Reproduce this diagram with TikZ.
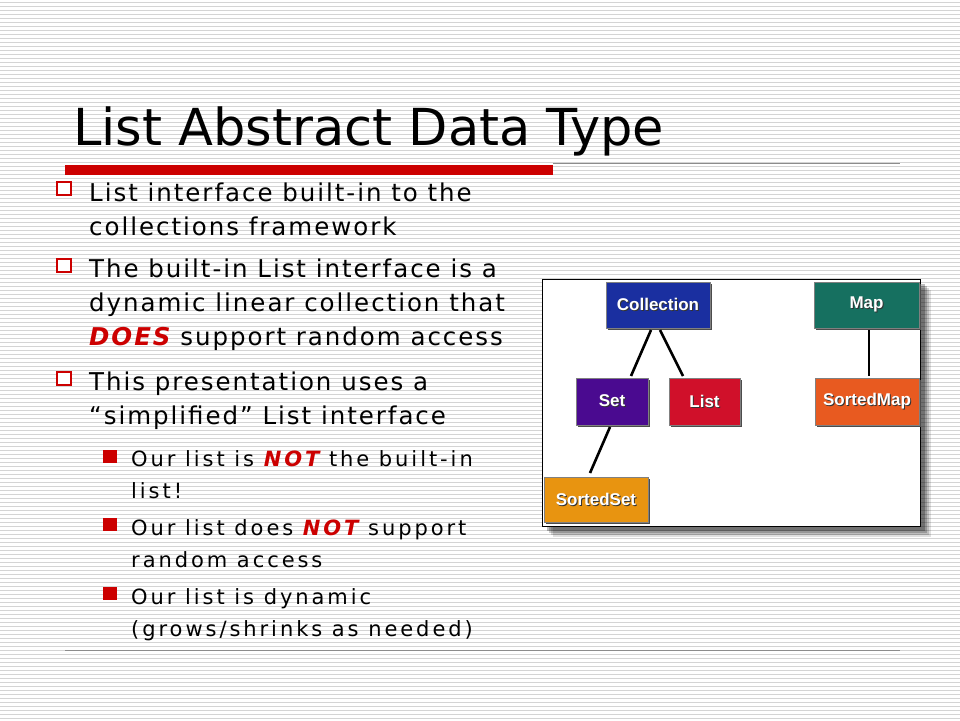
\documentclass[tikz,border=0pt]{standalone}
\usepackage{fontspec}
\setmainfont{DejaVu Sans}
\newfontfamily\boxfont{Liberation Sans}
\definecolor{slred}{HTML}{CC0000}
\newcommand{\shtext}[1]{\rlap{\raisebox{-1pt}{\hspace{1pt}\textcolor{black!80}{#1}}}\textcolor{white}{#1}}
\begin{document}
\begin{tikzpicture}[x=1pt,y=-1pt,
  txt/.style={anchor=base west,inner sep=0pt,font=\fontsize{24.5}{28}\selectfont\addfontfeatures{LetterSpace=8}},
  sub/.style={anchor=base west,inner sep=0pt,font=\fontsize{21}{24}\selectfont\addfontfeatures{LetterSpace=14}},
  hollow/.style={draw=slred,line width=2pt,fill=white},
  solid/.style={fill=slred},
  cls/.style={draw=black!50,line width=0.6pt,inner sep=0pt,font=\boxfont\bfseries\fontsize{17}{19}\selectfont},
  link/.style={line width=2.6pt}]
\useasboundingbox (0,0) rectangle (960,720);
\fill[white] (0,0) rectangle (960,720);
\foreach \i in {0,...,179}{\draw[black!17,line width=0.8pt] (0,\i*4+2) -- (960,\i*4+2);}
% title
\node[anchor=base west,inner sep=0pt,font=\fontsize{51}{60}\selectfont] (title) at (73,145) {List Abstract Data Type};
\fill[slred] (65,165) rectangle (553,175);
\draw[black!45,line width=0.8pt] (553,163) -- (900,163);
\draw[black!45,line width=0.8pt] (65,650) -- (900,650);
% bullets
\draw[hollow] (57,182) rectangle (71,195);
\node[txt] (b1a) at (89,201) {List interface built-in to the};
\node[txt] (b1b) at (89,235) {collections framework};
\draw[hollow] (57,259) rectangle (71,272);
\node[txt] (b2a) at (89,277) {The built-in List interface is a};
\node[txt] (b2b) at (89,311) {dynamic linear collection that};
\node[txt] (b2c) at (89,345) {\textcolor{slred}{\bfseries\itshape DOES} support random access};
\draw[hollow] (57,372) rectangle (71,385);
\node[txt] (b3a) at (89,390) {This presentation uses a};
\node[txt] (b3b) at (89,424) {“simplified” List interface};
\fill[solid] (103,450) rectangle (117,463);
\node[sub] (s1a) at (131,466) {Our list is \textcolor{slred}{\bfseries\itshape NOT} the built-in};
\node[sub] (s1b) at (131,498) {list!};
\fill[solid] (103,518) rectangle (117,531);
\node[sub] (s2a) at (131,535) {Our list does \textcolor{slred}{\bfseries\itshape NOT} support};
\node[sub] (s2b) at (131,567) {random access};
\fill[solid] (103,587) rectangle (117,600);
\node[sub] (s3a) at (131,604) {Our list is dynamic};
\node[sub] (s3b) at (131,636) {(grows/shrinks as needed)};
% diagram frame with shadow
\foreach \o/\a in {11/0.12,9/0.15,7/0.2,5/0.25}{\fill[black,opacity=\a] (542+\o,279+\o) rectangle (920+\o,526+\o);}
\draw[fill=white,line width=0.8pt] (542,279) rectangle (920,526);
% class box bevel shadows
\foreach \x/\y/\w/\h in {658/305/104/46,866.5/305/105/46,612/401.5/72/47,704.5/401.5/71/47,867/401.5/104/47,596/499.5/104/45}{
  \fill[black!70] (\x-\w/2+2,\y-\h/2+2) rectangle (\x+\w/2+2,\y+\h/2+2);}
\node[cls,fill={rgb,255:red,26;green,47;blue,160},minimum width=104,minimum height=46] (coll) at (658,305) {\shtext{Collection}};
\node[cls,fill={rgb,255:red,22;green,112;blue,96},minimum width=105,minimum height=46] (map) at (866.5,305) {\shtext{Map}};
\node[cls,fill={rgb,255:red,74;green,10;blue,144},minimum width=72,minimum height=47] (set) at (612,401.5) {\shtext{Set}};
\node[cls,fill={rgb,255:red,208;green,16;blue,42},minimum width=71,minimum height=47] (list) at (704.5,401.5) {\shtext{List}};
\node[cls,fill={rgb,255:red,232;green,90;blue,32},minimum width=104,minimum height=47] (smap) at (867,401.5) {\shtext{SortedMap}};
\node[cls,fill={rgb,255:red,232;green,148;blue,16},minimum width=104,minimum height=45] (sset) at (596,499.5) {\shtext{SortedSet}};
\coordinate (c1) at (651,330); \coordinate (c2) at (631,376);
\coordinate (c3) at (660,330); \coordinate (c4) at (683,376);
\coordinate (m1) at (869,330); \coordinate (m2) at (869,376);
\coordinate (t1) at (610,427); \coordinate (t2) at (590,473);
\draw[link] (c1) -- (c2);
\draw[link] (c3) -- (c4);
\draw[link] (m1) -- (m2);
\draw[link] (t1) -- (t2);
\end{tikzpicture}
\end{document}
